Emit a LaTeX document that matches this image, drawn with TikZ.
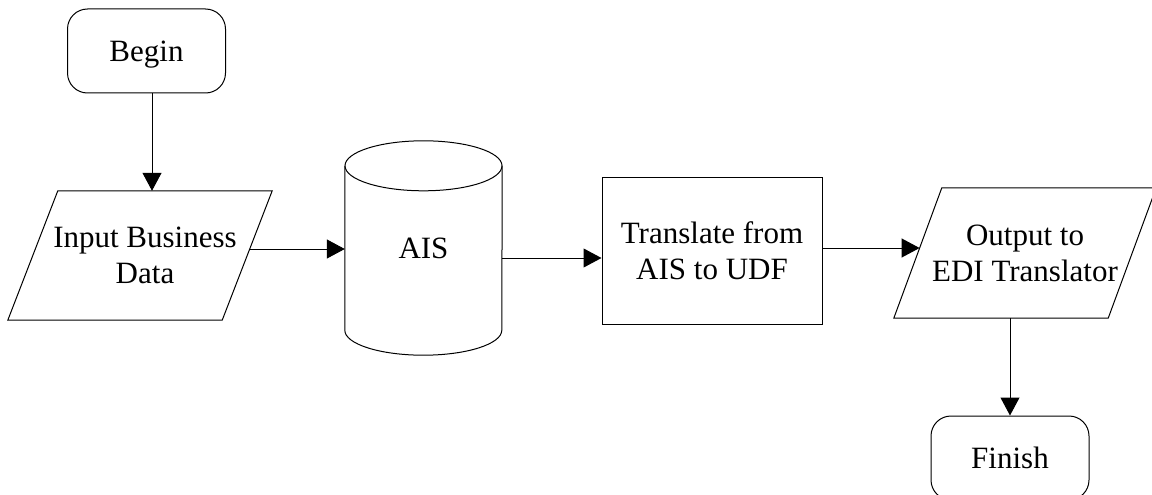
\documentclass[tikz,border=0pt]{standalone}
\usepackage{fontspec}
\setmainfont{Liberation Serif}
\usetikzlibrary{arrows.meta}

% Outline of a data (input/output) node: a parallelogram leaning right,
% drawn around the node's rectangle; #2 is the horizontal offset of the top and bottom sides.
\newcommand\dataoutline[2]{%
  \draw[outline] ([xshift=#2]#1.north west) -- ([xshift=#2]#1.north east)
    -- ([xshift=-#2]#1.south east) -- ([xshift=-#2]#1.south west) -- cycle;}

% Outline of a stored-data node: an upright cylinder filling the node's rectangle.
\newcommand\storeoutline[1]{%
  \draw[outline] ([yshift=-25pt]#1.north) ellipse [x radius=78.5pt, y radius=25pt];
  \draw[outline] ([yshift=-25pt]#1.north west) -- ([yshift=25pt]#1.south west)
    arc[start angle=180, end angle=360, x radius=78.5pt, y radius=25pt]
    -- ([yshift=-25pt]#1.north east);}

\begin{document}
\begin{tikzpicture}[x=1pt, y=-1pt,
  every node/.style={font=\fontsize{31pt}{36pt}\selectfont, inner sep=0pt, align=center},
  outline/.style={draw=black, line width=1pt},
  terminal/.style={outline, rounded corners=20pt, minimum width=158pt, minimum height=84pt, text depth=0pt},
  process/.style={outline, minimum width=220pt, minimum height=147pt},
  datatext/.style={minimum width=214pt, minimum height=129pt},
  storetext/.style={minimum width=157pt, minimum height=214pt},
  flow/.style={draw=black, line width=1pt, -{Triangle[length=18pt, width=19pt]}}
]
\useasboundingbox (0,0) rectangle (1152,495);

% steps of the flow
\node[terminal]  (begin)     at (146.5,51)  {Begin};
\node[datatext]  (input)     at (140,255.5) {\hspace*{10pt}Input Business\\\hspace*{10pt}Data};
\node[storetext] (ais)       at (423.5,248) {AIS};
\node[process]   (translate) at (712,250.5) {Translate from\\AIS to UDF};
\node[datatext, minimum height=130pt] (output) at (1025,253) {Output to\\EDI Translator};
\node[terminal]  (finish)    at (1010,458)  {Finish};

\dataoutline{input}{25pt}
\dataoutline{output}{24pt}
\storeoutline{ais}

% connectors
\draw[flow] ([xshift=5.5pt]begin.south) -- ([xshift=5.5pt]begin.south |- input.north);
\draw[flow] ([xshift=2.5pt,yshift=6.5pt]input.east) -- ([yshift=6.5pt]input.east -| ais.west);
\draw[flow] ([yshift=-10pt]ais.east) -- ([yshift=-10pt]ais.east -| translate.west);
\draw[flow] ([yshift=2.5pt]translate.east) -- ([xshift=1.8pt,yshift=2.5pt]translate.east -| output.west);
\draw[flow] (output.south -| finish.north) -- (finish.north);
\end{tikzpicture}
\end{document}
